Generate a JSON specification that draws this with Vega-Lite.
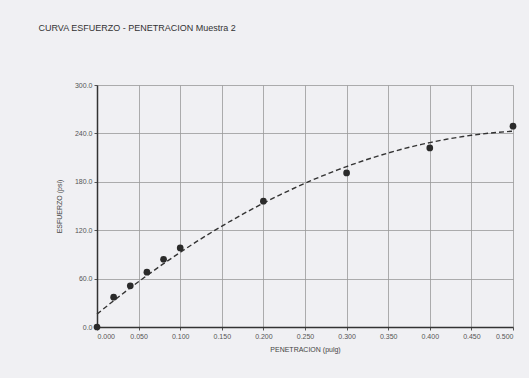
{
  "$schema": "https://vega.github.io/schema/vega-lite/v6.json",
  "autosize": "none",
  "width": 416,
  "height": 242,
  "padding": {"left": 97, "top": 85, "right": 16, "bottom": 51},
  "background": "#f0f0f3",
  "title": {
    "text": "CURVA ESFUERZO - PENETRACION  Muestra 2",
    "anchor": "start",
    "dx": -17,
    "offset": 48,
    "fontSize": 9,
    "font": "Liberation Sans",
    "fontWeight": "normal",
    "color": "#333333"
  },
  "data": {
    "values": [
      {"pen": 0.0, "esf": 0},
      {"pen": 0.02, "esf": 37},
      {"pen": 0.04, "esf": 51},
      {"pen": 0.06, "esf": 68},
      {"pen": 0.08, "esf": 84},
      {"pen": 0.1, "esf": 98},
      {"pen": 0.2, "esf": 156},
      {"pen": 0.3, "esf": 191},
      {"pen": 0.4, "esf": 222},
      {"pen": 0.5, "esf": 249}
    ]
  },
  "config": {
    "view": {"stroke": null},
    "axis": {
      "labelFont": "Liberation Sans",
      "titleFont": "Liberation Sans",
      "labelFontSize": 7,
      "titleFontSize": 7,
      "labelColor": "#555555",
      "titleColor": "#444444",
      "titleFontWeight": "normal",
      "gridColor": "#9a9a9a",
      "gridOpacity": 0.8,
      "domainColor": "#333333",
      "domainWidth": 1.5,
      "tickColor": "#555555",
      "tickSize": 3
    }
  },
  "layer": [
    {
      "transform": [
        {"regression": "esf", "on": "pen", "method": "poly", "order": 2, "extent": [0, 0.5]}
      ],
      "mark": {"type": "line", "color": "#333333", "strokeWidth": 1.4, "strokeDash": [5, 3]},
      "encoding": {
        "x": {"field": "pen", "type": "quantitative"},
        "y": {"field": "esf", "type": "quantitative"}
      }
    },
    {
      "mark": {"type": "point", "filled": true, "color": "#2a2a2a", "size": 45, "opacity": 1},
      "encoding": {
        "x": {
          "field": "pen",
          "type": "quantitative",
          "scale": {"domain": [0, 0.5], "nice": false},
          "axis": {"values": [0, 0.05, 0.1, 0.15, 0.2, 0.25, 0.3, 0.35, 0.4, 0.45, 0.5], "format": ".3f", "title": "PENETRACION (pulg)", "titlePadding": 6}
        },
        "y": {
          "field": "esf",
          "type": "quantitative",
          "scale": {"domain": [0, 300], "nice": false},
          "axis": {"values": [0, 60, 120, 180, 240, 300], "format": ".1f", "title": "ESFUERZO (psi)", "titlePadding": 12}
        }
      }
    }
  ]
}
